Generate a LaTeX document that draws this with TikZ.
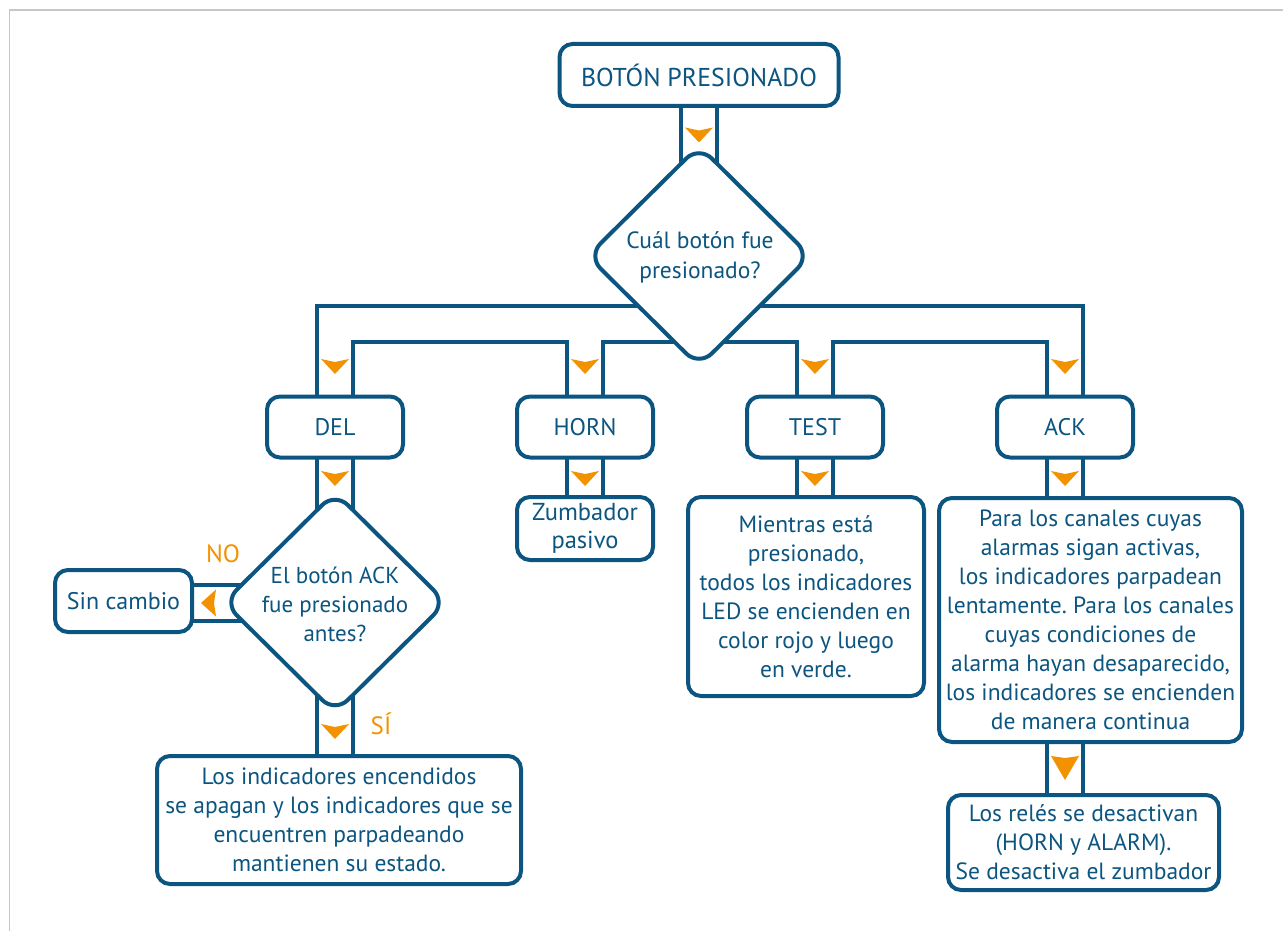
\documentclass[tikz,border=0pt]{standalone}
\usepackage{fontspec}
\setmainfont{PT Sans}
\frenchspacing
\usetikzlibrary{shapes.geometric,backgrounds}
\definecolor{flowblue}{HTML}{0B5580}
\definecolor{floworange}{HTML}{F39200}
\tikzset{
  dn/.pic={\fill[floworange] (-14,-7) -- (0,-4) -- (14,-7) -- (0,8) -- cycle;},
  bigdn/.pic={\fill[floworange] (-14,-12) -- (0,-10) -- (14,-12) -- (0,12) -- cycle;},
  lf/.pic={\fill[floworange] (-8,0) -- (7,-13.5) -- (5,0) -- (7,13.5) -- cycle;}
}
\begin{document}
\begin{tikzpicture}[x=1pt,y=-1pt,
  box/.style={draw=flowblue, line width=4pt, rounded corners=13pt, fill=white,
    text=flowblue, align=center, inner sep=0pt, font=\fontsize{23.5}{29}\selectfont},
  keybox/.style={box, minimum width=136pt, minimum height=61pt, font=\fontsize{24}{29}\selectfont},
  dia/.style={draw=flowblue, line width=4pt, shape=diamond, rounded corners=18pt,
    fill=white, inner sep=0pt, minimum width=224pt, minimum height=222pt},
  txt/.style={text=flowblue, align=center, inner sep=0pt, font=\fontsize{23.5}{29}\selectfont},
  lbl/.style={text=floworange, inner sep=0pt, font=\fontsize{25}{29}\selectfont}
]
\useasboundingbox (0,0) rectangle (1283,931);
\draw[black!22, line width=1.5pt] (9.5,931) -- (9.5,10) -- (1283,10);

% nodes
\node[box, minimum width=279pt, minimum height=62pt, font=\fontsize{25.8}{30}\selectfont] (top) at (699,75) {BOTÓN PRESIONADO};
\node[dia] (q1) at (699,256) {};
\node[txt, font=\fontsize{23.5}{30}\selectfont] (q1t) at (700,257) {Cuál botón fue\\presionado?};
\coordinate (hub) at (699,324);

\node[keybox] (del) at (335,427) {DEL};
\node[keybox] (horn) at (585,427) {HORN};
\node[keybox] (test) at (815,427) {TEST};
\node[keybox] (ack) at (1065,427) {ACK};

\node[box, minimum width=136pt, minimum height=63pt, font=\fontsize{24.5}{28}\selectfont] (zum) at (585,528.5) {Zumbador\\pasivo};
\node[box, minimum width=236pt, minimum height=199pt] (testtxt) at (806,596.5) {Mientras está\\presionado,\\todos los indicadores\\LED se encienden en\\color rojo y luego\\en verde.};
\node[box, minimum width=303pt, minimum height=244pt] (acktxt) at (1090.5,620) {Para los canales cuyas\\alarmas sigan activas,\\los indicadores parpadean\\lentamente. Para los canales\\cuyas condiciones de\\alarma hayan desaparecido,\\los indicadores se encienden\\de manera continua};
\node[box, minimum width=271pt, minimum height=95pt] (rel) at (1083.5,842.5) {Los relés se desactivan\\(HORN y ALARM).\\Se desactiva el zumbador};

\node[dia] (q2) at (335,602.5) {};
\node[txt, font=\fontsize{23}{29}\selectfont] (q2t) at (335,604) {El botón ACK\\fue presionado\\antes?};
\node[box, minimum width=137pt, minimum height=62pt, font=\fontsize{24}{29}\selectfont] (sin) at (123.5,601) {Sin cambio};
\node[box, minimum width=364pt, minimum height=128pt] (bl) at (339,820) {Los indicadores encendidos\\se apagan y los indicadores que se\\encuentren parpadeando\\mantienen su estado.};

\node[lbl] (no) at (223,554) {NO};
\node[lbl] (si) at (381,724) {SÍ};

% pipes
\begin{pgfonlayer}{background}
\foreach \w/\c in {40/flowblue, 32/white} {
  \draw[line width=\w pt, \c] (top.center) -- (q1.center);
  \draw[line width=\w pt, \c] (hub) -| (del.center);
  \draw[line width=\w pt, \c] (hub) -| (ack.center);
  \draw[line width=\w pt, \c] (hub -| horn.center) -- (horn.center);
  \draw[line width=\w pt, \c] (hub -| test.center) -- (test.center);
  \draw[line width=\w pt, \c] (horn.center) -- (zum.center);
  \draw[line width=\w pt, \c] (test.center) -- (test.center |- testtxt.center);
  \draw[line width=\w pt, \c] (ack.center) -- (ack.center |- rel.center);
  \draw[line width=\w pt, \c] (del.center) -- (q2.center);
  \draw[line width=\w pt, \c] (q2.center) -- (q2.center -| sin.center);
  \draw[line width=\w pt, \c] (q2.center) -- (q2.center |- bl.center);
}
\end{pgfonlayer}

% arrowheads
\pic at (699,134.5) {dn};
\pic at (335,366) {dn};
\pic at (585,366) {dn};
\pic at (815,366) {dn};
\pic at (1065,366) {dn};
\pic at (335,478) {dn};
\pic at (585,478) {dn};
\pic at (815,478) {dn};
\pic at (1065,478) {dn};
\pic at (335,731) {dn};
\pic at (1065,768) {bigdn};
\pic at (209,603) {lf};
\end{tikzpicture}
\end{document}
